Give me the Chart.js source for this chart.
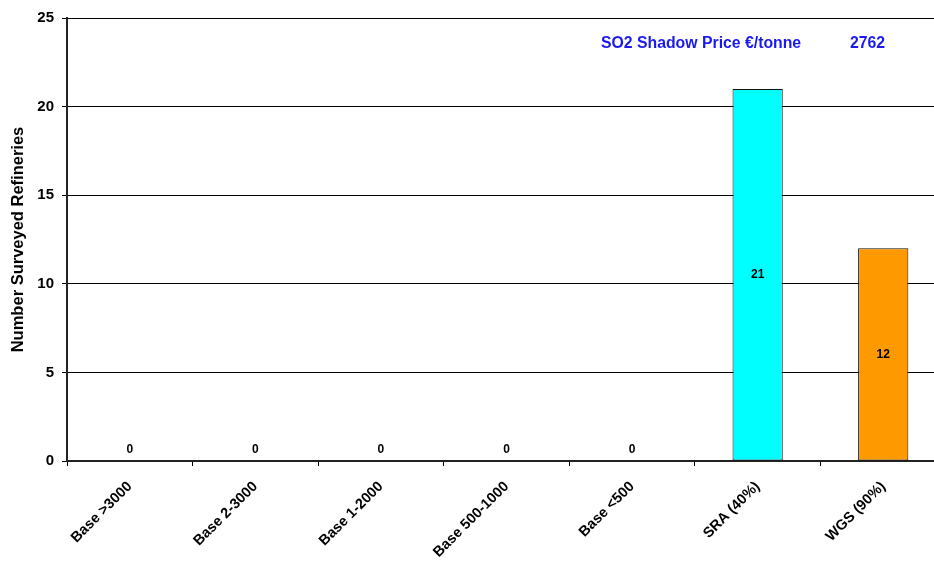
<!DOCTYPE html>
<html>
<head>
<meta charset="utf-8">
<script src="https://cdn.jsdelivr.net/npm/chart.js@4"></script>
<style>
    html, body { margin: 0; padding: 0; background: #fff; overflow: hidden; }
    #wrap { width: 950px; height: 562px; }
</style>
</head>
<body>
<div id="wrap"><canvas id="refineryChart" width="950" height="562"></canvas></div>
<script>
const categories = ["Base >3000", "Base 2-3000", "Base 1-2000", "Base 500-1000", "Base <500", "SRA (40%)", "WGS (90%)"];
const refineries = [0, 0, 0, 0, 0, 21, 12];
const barColors = ["#00ffff", "#00ffff", "#00ffff", "#00ffff", "#00ffff", "#00ffff", "#ff9900"];
const yTicks = [0, 5, 10, 15, 20, 25];
const priceLabel = "SO2 Shadow Price €/tonne";
const priceValue = "2762";

const FONT = "'Liberation Sans', Arial, sans-serif";

// value labels in the middle of each bar, zeros just above the axis
const barLabels = {
    id: "barLabels",
    afterDatasetsDraw(chart) {
        const ctx = chart.ctx;
        const meta = chart.getDatasetMeta(0);
        ctx.save();
        ctx.font = "bold 12px " + FONT;
        ctx.fillStyle = "#000";
        ctx.textAlign = "center";
        ctx.textBaseline = "middle";
        meta.data.forEach((bar, i) => {
            const v = refineries[i];
            let y;
            if (v === 0) {
                y = bar.base - 11;
            } else {
                y = (bar.y + bar.base) / 2;
            }
            ctx.fillText(String(v), bar.x, y);
        });
        ctx.restore();
    }
};

const priceNote = {
    id: "priceNote",
    afterDraw(chart) {
        const ctx = chart.ctx;
        ctx.save();
        ctx.font = "bold 15.8px " + FONT;
        ctx.fillStyle = "#1a1af0";
        ctx.textBaseline = "middle";
        ctx.textAlign = "left";
        ctx.fillText(priceLabel, 601, 44);
        ctx.fillText(priceValue, 850, 44);
        ctx.restore();
    }
};

const chart = new Chart(document.getElementById("refineryChart"), {
    type: "bar",
    data: {
        labels: categories,
        datasets: [{
            data: refineries,
            backgroundColor: barColors,
            borderColor: "#111",
            borderWidth: 1,
            borderSkipped: false,
            barPercentage: 0.4,
            categoryPercentage: 1.0
        }]
    },
    options: {
        responsive: false,
        animation: false,
        layout: { padding: { top: 18, right: 4, left: 9, bottom: 0 } },
        plugins: {
            legend: { display: false },
            tooltip: { enabled: false }
        },
        scales: {
            x: {
                grid: {
                    offset: true,
                    drawOnChartArea: false,
                    color: "#000",
                    tickLength: 5
                },
                border: { color: "#222", width: 2 },
                ticks: {
                    color: "#000",
                    font: { family: FONT, size: 14.5, weight: "bold" },
                    minRotation: 45,
                    maxRotation: 45,
                    autoSkip: false,
                    padding: 12
                },
                afterFit(scale) { scale.height = 101; }
            },
            y: {
                min: 0,
                max: 25,
                afterBuildTicks(scale) { scale.ticks = yTicks.map(v => ({ value: v })); },
                grid: {
                    color: "#000",
                    lineWidth: 1,
                    tickLength: 5
                },
                border: { color: "#222", width: 2 },
                ticks: {
                    color: "#000",
                    font: { family: FONT, size: 15, weight: "bold" },
                    padding: 8
                },
                title: {
                    display: true,
                    text: "Number Surveyed Refineries",
                    color: "#000",
                    font: { family: FONT, size: 16.5, weight: "bold" },
                    padding: { top: 0, bottom: 4 }
                },
                afterFit(scale) { scale.width = 58; }
            }
        }
    },
    plugins: [barLabels, priceNote]
});
</script>
</body>
</html>
